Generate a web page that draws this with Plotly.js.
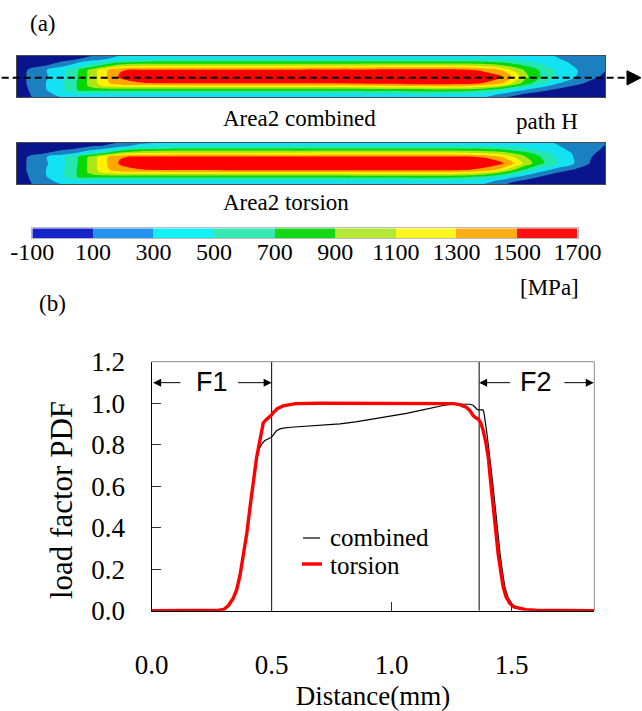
<!DOCTYPE html>
<html><head><meta charset="utf-8">
<script src="https://cdn.plot.ly/plotly-3.0.1.min.js"></script>
<style>html,body{margin:0;padding:0;background:#fff;}#chart{width:642px;height:711px;}</style>
</head><body><div id="chart"></div>
<script>
// ---------- (b) load factor PDF along path H ----------
const distCombined = [0,0.1,0.2,0.28,0.30,0.32,0.34,0.354,0.368,0.382,0.396,0.41,0.424,0.4375,0.448,0.46,0.472,0.486,0.497,0.504,0.512,0.52,0.535,0.548,0.58,0.618,0.7,0.785,0.85,0.923,1.0,1.0625,1.12,1.173,1.22,1.257,1.3,1.326,1.34,1.347,1.355,1.361,1.368,1.375,1.381,1.385,1.39,1.396,1.403,1.41,1.421,1.432,1.442,1.452,1.462,1.472,1.485,1.5,1.515,1.54,1.57,1.6,1.7,1.845];
const pdfCombined  = [0,0,0,0.002,0.006,0.025,0.06,0.10,0.17,0.26,0.37,0.50,0.62,0.73,0.78,0.805,0.82,0.828,0.835,0.843,0.856,0.867,0.876,0.88,0.884,0.887,0.893,0.90,0.91,0.924,0.938,0.951,0.965,0.979,0.99,0.995,0.996,0.995,0.99,0.98,0.972,0.968,0.968,0.971,0.968,0.955,0.92,0.867,0.80,0.74,0.62,0.50,0.38,0.276,0.19,0.115,0.065,0.035,0.018,0.01,0.004,0.002,0,0];
const distTorsion = [0,0.1,0.2,0.28,0.30,0.32,0.34,0.354,0.368,0.382,0.396,0.41,0.424,0.4375,0.451,0.458,0.465,0.475,0.486,0.497,0.507,0.525,0.548,0.575,0.60,0.7,0.9,1.1,1.2,1.257,1.285,1.3125,1.328,1.34,1.352,1.361,1.372,1.382,1.393,1.403,1.413,1.423,1.434,1.444,1.455,1.465,1.478,1.493,1.51,1.535,1.56,1.6,1.7,1.845];
const pdfTorsion  = [0,0,0,0.002,0.006,0.025,0.06,0.10,0.17,0.26,0.37,0.50,0.62,0.74,0.82,0.87,0.905,0.918,0.928,0.94,0.955,0.975,0.987,0.994,0.998,1.0,1.0,1.0,1.0,0.998,0.993,0.979,0.962,0.94,0.928,0.924,0.905,0.868,0.81,0.74,0.62,0.50,0.38,0.276,0.19,0.115,0.065,0.035,0.018,0.011,0.005,0.002,0,0];
const zoneBounds = [0.5, 1.365];
const xTicks = [0, 0.5, 1.0, 1.5];
const yTicks = [0, 0.2, 0.4, 0.6, 0.8, 1.0, 1.2];

// ---------- (a) stress contour maps (values in MPa) ----------
const lengthPos = [0,0.0192,0.0481,0.0770,0.1042,0.1280,0.1518,0.1756,0.2096,0.2606,0.4815,0.7535,0.7960,0.8215,0.8419,0.8640,0.8895,0.9184,0.9490,0.9745,1.0];
const widthPos = [0,0.08,0.175,0.27,0.345,0.5,0.655,0.75,0.85,0.92,1];
const stressCombined = [
 [20,70,200,310,370,380,380,380,380,380,380, 370,290,110,60,30,20,10,0,0,0],
 [30,80,230,380,450,470,470,470,470,470,470, 480,420,290,180,90,40,20,10,0,0],
 [40,95,280,460,720,750,760,760,760,760,760, 800,690,560,430,290,150,60,20,10,0],
 [40,105,290,470,720,980,1150,1200,1210,1210,1210, 1330,1200,1050,820,600,390,200,80,30,10],
 [40,110,290,470,720,1000,1260,1420,1490,1530,1540, 1600,1490,1380,1120,820,560,330,170,60,20],
 [40,110,270,440,705,1000,1280,1530,1630,1650,1650, 1660,1620,1540,1290,960,710,480,310,170,60],
 [40,105,280,460,690,990,1270,1480,1540,1540,1540, 1560,1450,1310,1080,880,680,470,320,210,110],
 [20,60,105,270,430,620,850,1050,1120,1130,1130, 1150,1080,990,860,720,560,400,290,200,120],
 [10,30,60,105,270,400,520,640,710,730,730, 740,720,680,600,530,450,340,270,190,120],
 [0,15,35,60,95,180,290,400,470,505,505, 505,505,480,460,430,380,310,250,180,120],
 [0,10,25,45,70,90,130,320,370,380,380, 380,380,380,370,360,340,290,230,170,120]
];
const stressTorsion = [
 [20,70,200,310,370,380,380,380,380,380,380, 380,290,150,60,20,0,0,0,0,0],
 [30,80,230,380,450,470,470,470,470,470,470, 470,380,260,140,70,20,0,0,0,0],
 [40,95,280,460,720,750,760,760,760,760,760, 760,650,510,360,220,95,30,0,0,0],
 [40,105,290,470,720,980,1150,1200,1210,1210,1210, 1210,1080,890,680,460,260,95,30,0,0],
 [40,110,290,470,720,1000,1260,1420,1490,1530,1540, 1540,1440,1250,960,680,430,220,80,20,0],
 [40,110,270,440,705,1000,1280,1530,1630,1650,1650, 1650,1620,1560,1360,1040,760,510,290,95,20],
 [40,105,280,460,690,990,1270,1480,1540,1540,1540, 1540,1480,1340,1130,920,710,480,280,110,30],
 [20,50,90,160,330,510,720,950,1090,1130,1130, 1130,1090,1010,890,760,600,420,270,130,50],
 [10,25,50,75,110,230,320,510,660,720,730, 730,720,680,610,540,450,340,250,150,80],
 [0,15,30,50,70,90,110,220,380,480,505, 505,495,480,460,430,380,310,240,160,95],
 [0,10,20,35,50,65,80,105,240,360,380, 380,380,375,370,360,340,290,240,170,110]
];
const stressLevels = [-100,100,300,500,700,900,1100,1300,1500,1700];
const bandValues = [0,200,400,600,800,1000,1200,1400,1600];

// ---------- styles ----------
const contourColors = ['#0a148c','#1c80c0','#12e2f2','#24e6b0','#06d806','#aee614','#fff200','#ffa600','#ff0000'];
const barColors = ['#1424c8','#2294f0','#14f0f8','#34e8b4','#14d814','#b4e834','#fff820','#ffae18','#ff1010'];
const SERIF = 'Liberation Serif, Times New Roman, serif';
const SANS = 'Liberation Sans Narrow, Liberation Sans, Arial, sans-serif';
const W = 642, H = 711;
const px = v => v / W, py = v => 1 - v / H;

const contourScale = contourColors.map((c, i) => [i / 8, c]);
const barScale = barColors.map((c, i) => [i / 8, c]);

const contourCommon = {
  type: 'contour', x: lengthPos, y: widthPos, autocontour: false,
  contours: {start: 100, end: 1500, size: 200, coloring: 'fill', showlines: false},
  line: {width: 0}, colorscale: contourScale, showscale: false, hoverinfo: 'skip'
};

const traces = [
  Object.assign({}, contourCommon, {z: stressCombined, xaxis: 'x2', yaxis: 'y2', name: 'Area2 combined'}),
  Object.assign({}, contourCommon, {z: stressTorsion, xaxis: 'x3', yaxis: 'y3', name: 'Area2 torsion'}),
  {type: 'heatmap', x: stressLevels, y: [0, 1], z: [bandValues], zmin: 0, zmax: 1600,
   colorscale: barScale, showscale: false, xaxis: 'x4', yaxis: 'y4', hoverinfo: 'skip'},
  {type: 'scatter', mode: 'lines', x: distCombined, y: pdfCombined, name: 'combined',
   line: {color: '#000', width: 1.2}, xaxis: 'x', yaxis: 'y', showlegend: false, cliponaxis: false},
  {type: 'scatter', mode: 'lines', x: distTorsion, y: pdfTorsion, name: 'torsion',
   line: {color: '#ff0000', width: 3.4}, xaxis: 'x', yaxis: 'y', showlegend: false, cliponaxis: false}
];

const boxAxis = dom => ({domain: dom, range: [0, 1], showline: true, mirror: true, linecolor: '#4a4a4a',
  linewidth: 1, showgrid: false, zeroline: false, showticklabels: false, ticks: '', fixedrange: true});

const txt = (x, y, text, size, extra) => Object.assign({xref: 'paper', yref: 'paper', x: px(x), y: py(y),
  xanchor: 'center', yanchor: 'middle', text: text, showarrow: false, font: {family: SERIF, size: size}}, extra || {});

const arrow = (x, ax) => ({xref: 'x', yref: 'y', axref: 'x', ayref: 'y', x: x, y: 1.099, ax: ax, ay: 1.099,
  text: '', showarrow: true, arrowhead: 2, arrowsize: 1.6, arrowwidth: 1, arrowcolor: '#000'});

const layout = {
  width: W, height: H, margin: {l: 0, r: 0, t: 0, b: 0},
  paper_bgcolor: '#fff', plot_bgcolor: '#fff', showlegend: false,
  font: {family: SERIF, color: '#000', size: 27},
  xaxis: {domain: [px(151.7), px(594.3)], range: [0, 1.845], tickvals: xTicks, tickformat: '.1f',
    ticks: 'inside', ticklen: 9, tickcolor: '#333', tickwidth: 1, showline: true, linecolor: '#000', linewidth: 1.2,
    showgrid: false, zeroline: false, ticklabelstandoff: 30, tickfont: {family: SERIF, size: 27},
    title: {text: 'Distance(mm)', font: {family: SERIF, size: 27}, standoff: 6}, anchor: 'y'},
  yaxis: {domain: [py(610.7), py(361.7)], range: [0, 1.2], tickvals: yTicks, tickformat: '.1f',
    ticks: 'inside', ticklen: 9, tickcolor: '#333', tickwidth: 1, showline: true, linecolor: '#000', linewidth: 1.2,
    showgrid: false, zeroline: false, ticklabelstandoff: 20, tickfont: {family: SERIF, size: 27}, anchor: 'x'},
  xaxis2: Object.assign(boxAxis([px(16.7), px(605)]), {anchor: 'y2'}),
  yaxis2: Object.assign(boxAxis([py(97.3), py(55.7)]), {anchor: 'x2'}),
  xaxis3: Object.assign(boxAxis([px(16.7), px(605)]), {anchor: 'y3'}),
  yaxis3: Object.assign(boxAxis([py(184), py(142.7)]), {anchor: 'x3'}),
  xaxis4: {domain: [px(32.3), px(577.6)], range: [-100, 1700], anchor: 'y4', tickvals: stressLevels,
    ticktext: stressLevels.map(String), ticks: '', ticklen: 0, showline: true, mirror: true, linecolor: '#bbb', linewidth: 1,
    showgrid: false, zeroline: false, tickfont: {family: SERIF, size: 24}, ticklabelstandoff: -8, fixedrange: true},
  yaxis4: {domain: [py(238.3), py(228.3)], range: [0, 1], anchor: 'x4', showline: true, mirror: true, linecolor: '#bbb',
    showgrid: false, zeroline: false, showticklabels: false, ticks: '', fixedrange: true},
  shapes: [
    ...zoneBounds.map(b => ({type: 'line', xref: 'x', yref: 'y', x0: b, x1: b, y0: 0, y1: 1.2, layer: 'below',
      line: {color: '#000', width: 1}})),
    {type: 'line', xref: 'x domain', yref: 'y domain', x0: 0, x1: 1, y0: 1, y1: 1, line: {color: '#8a8a8a', width: 1}},
    {type: 'line', xref: 'x domain', yref: 'y domain', x0: 1, x1: 1, y0: 0, y1: 1, line: {color: '#8a8a8a', width: 1}},
    {type: 'line', xref: 'paper', yref: 'paper', x0: px(1.7), x1: px(627), y0: py(77.7), y1: py(77.7),
      line: {color: '#000', width: 2, dash: '7px,4px'}},
    {type: 'path', xref: 'paper', yref: 'paper', fillcolor: '#000', line: {color: '#000', width: 1},
      path: `M ${px(627)} ${py(70.7)} L ${px(641)} ${py(77.7)} L ${px(627)} ${py(85)} Z`},
    {type: 'line', xref: 'paper', yref: 'paper', x0: px(303), x1: px(320), y0: py(538), y1: py(538),
      line: {color: '#000', width: 1.2}},
    {type: 'line', xref: 'paper', yref: 'paper', x0: px(302), x1: px(322), y0: py(564), y1: py(564),
      line: {color: '#ff0000', width: 3.4}}
  ],
  annotations: [
    txt(43, 23.3, '(a)', 23),
    txt(221, 118.3, 'Area2 combined', 23, {xanchor: 'left'}),
    txt(546.5, 121.7, 'path H', 23),
    txt(221, 202.7, 'Area2 torsion', 23, {xanchor: 'left'}),
    txt(549, 287, '[MPa]', 23),
    txt(52.7, 303, '(b)', 23),
    txt(328, 537, 'combined', 25, {xanchor: 'left'}),
    txt(328, 565, 'torsion', 25, {xanchor: 'left'}),
    txt(61, 500, 'load factor PDF', 31, {textangle: -90}),
    {xref: 'x', yref: 'y', x: 0.251, y: 1.1, xanchor: 'center', yanchor: 'middle', text: 'F1', showarrow: false, font: {family: SANS, size: 27}},
    {xref: 'x', yref: 'y', x: 1.604, y: 1.1, xanchor: 'center', yanchor: 'middle', text: 'F2', showarrow: false, font: {family: SANS, size: 27}},
    arrow(0.006, 0.126), arrow(0.5, 0.354), arrow(1.365, 1.5), arrow(1.843, 1.714)
  ]
};

Plotly.newPlot('chart', traces, layout, {staticPlot: true, displayModeBar: false});
</script>
</body></html>
